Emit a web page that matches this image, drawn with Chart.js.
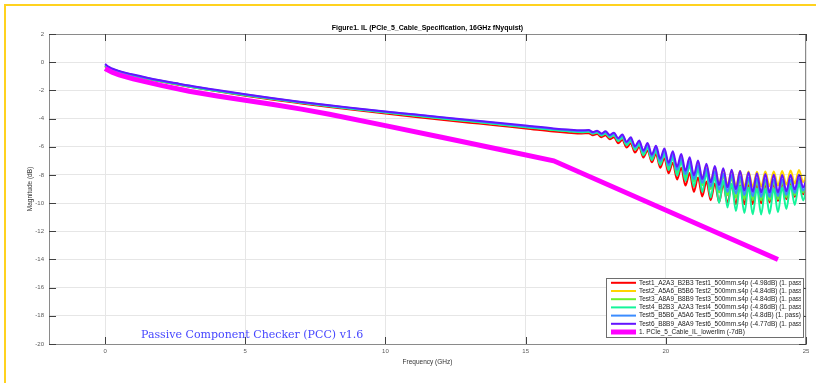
<!DOCTYPE html>
<html>
<head>
<meta charset="utf-8">
<title>Figure1. IL</title>
<script src="https://cdn.jsdelivr.net/npm/chart.js@4.4.1/dist/chart.umd.min.js"></script>
<style>
  html, body { margin: 0; padding: 0; background: #fff; }
  #chartBox { width: 816px; height: 383px; }
</style>
</head>
<body>
<div id="chartBox"><canvas id="ilChart" width="816" height="383"></canvas></div>
<script>
// frequency points (GHz) shared by the six measured curves
const freqGHz = [0, 0.1, 0.25, 0.5, 0.75, 1, 1.5, 2, 2.5, 3, 4, 5, 6, 7, 8, 9, 10, 11, 12, 13, 14, 15, 16, 16.5, 17,
  17.25, 17.4, 17.55, 17.7, 17.85, 18, 18.15, 18.3, 18.45, 18.6, 18.75, 18.9, 19.05, 19.2, 19.35, 19.5, 19.65, 19.8, 19.95,
  20.1, 20.25, 20.4, 20.55, 20.7, 20.85, 21, 21.15, 21.3, 21.45, 21.6, 21.75, 21.9, 22.05, 22.2, 22.35, 22.5, 22.65, 22.8,
  22.95, 23.1, 23.25, 23.4, 23.55, 23.7, 23.85, 24, 24.15, 24.3, 24.45, 24.6, 24.75, 24.9, 25.05];

const test1 = [-0.3, -0.42, -0.55, -0.71, -0.85, -0.96, -1.18, -1.38, -1.56, -1.74, -2.07, -2.38, -2.67, -2.93, -3.18, -3.42, -3.65, -3.87, -4.08, -4.29, -4.5, -4.7, -4.92, -5.0, -5.06,
  -5.04, -5.18, -5.10, -5.32, -5.19, -5.47, -5.32, -5.75, -5.52, -6.06, -5.76, -6.41, -6.01, -6.76, -6.26, -7.11, -6.52, -7.49, -6.81,
  -7.89, -7.14, -8.32, -7.50, -8.76, -7.86, -9.20, -8.19, -9.53, -8.46, -9.79, -8.61, -9.93, -8.67, -10.01, -8.72, -10.07, -8.73, -10.08,
  -8.72, -10.07, -8.70, -10.02, -8.67, -9.95, -8.63, -9.85, -8.59, -9.72, -8.54, -9.55, -8.48, -9.37, -8.42];

const test2 = [-0.25, -0.38, -0.51, -0.67, -0.81, -0.92, -1.14, -1.34, -1.52, -1.7, -2.02, -2.32, -2.6, -2.86, -3.1, -3.33, -3.55, -3.76, -3.97, -4.17, -4.38, -4.58, -4.78, -4.86, -4.92,
  -4.88, -5.01, -4.93, -5.12, -4.98, -5.23, -5.08, -5.46, -5.25, -5.74, -5.45, -6.07, -5.72, -6.40, -5.92, -6.71, -6.14, -7.00, -6.35,
  -7.30, -6.56, -7.58, -6.77, -7.84, -6.99, -8.10, -7.18, -8.30, -7.35, -8.48, -7.49, -8.62, -7.61, -8.72, -7.68, -8.79, -7.73, -8.82,
  -7.75, -8.84, -7.77, -8.83, -7.76, -8.80, -7.75, -8.76, -7.73, -8.69, -7.69, -8.61, -7.65, -8.52, -7.59];

const test3 = [-0.26, -0.39, -0.52, -0.68, -0.82, -0.93, -1.15, -1.35, -1.53, -1.71, -2.03, -2.33, -2.61, -2.87, -3.11, -3.34, -3.56, -3.77, -3.98, -4.18, -4.39, -4.59, -4.8, -4.88, -4.95,
  -4.91, -5.05, -4.96, -5.17, -5.03, -5.30, -5.14, -5.55, -5.31, -5.84, -5.52, -6.18, -5.80, -6.53, -6.02, -6.86, -6.24, -7.18, -6.47,
  -7.51, -6.71, -7.83, -6.95, -8.16, -7.20, -8.48, -7.43, -8.74, -7.65, -9.00, -7.87, -9.26, -8.06, -9.45, -8.20, -9.62, -8.33, -9.72,
  -8.40, -9.79, -8.46, -9.81, -8.49, -9.79, -8.48, -9.72, -8.46, -9.60, -8.42, -9.43, -8.36, -9.25, -8.30];

const test4 = [-0.27, -0.4, -0.53, -0.69, -0.83, -0.94, -1.16, -1.36, -1.54, -1.72, -2.04, -2.34, -2.62, -2.88, -3.13, -3.36, -3.58, -3.79, -4.0, -4.2, -4.41, -4.61, -4.82, -4.9, -4.97,
  -4.93, -5.07, -4.99, -5.20, -5.06, -5.34, -5.18, -5.59, -5.36, -5.89, -5.57, -6.22, -5.85, -6.60, -6.07, -6.95, -6.30, -7.30, -6.53,
  -7.66, -6.80, -8.05, -7.07, -8.44, -7.34, -8.83, -7.60, -9.22, -7.87, -9.61, -8.14, -10.00, -8.41, -10.31, -8.62, -10.57, -8.78, -10.71,
  -8.89, -10.80, -8.95, -10.81, -8.99, -10.76, -8.97, -10.65, -8.90, -10.42, -8.78, -10.13, -8.63, -9.81, -8.47];

const test5 = [-0.18, -0.34, -0.48, -0.65, -0.79, -0.9, -1.12, -1.32, -1.5, -1.68, -2.0, -2.3, -2.58, -2.84, -3.08, -3.3, -3.52, -3.72, -3.93, -4.13, -4.33, -4.54, -4.74, -4.82, -4.88,
  -4.85, -5.00, -4.90, -5.10, -4.96, -5.22, -5.07, -5.45, -5.22, -5.72, -5.43, -6.06, -5.66, -6.37, -5.89, -6.69, -6.11, -7.01, -6.33,
  -7.33, -6.56, -7.64, -6.80, -7.95, -7.06, -8.30, -7.32, -8.58, -7.56, -8.83, -7.74, -9.05, -7.90, -9.21, -8.01, -9.34, -8.11, -9.44,
  -8.19, -9.52, -8.25, -9.56, -8.30, -9.56, -8.33, -9.51, -8.33, -9.42, -8.32, -9.28, -8.27, -9.12, -8.22];

const test6 = [-0.12, -0.3, -0.45, -0.62, -0.76, -0.88, -1.1, -1.3, -1.48, -1.66, -1.98, -2.28, -2.56, -2.82, -3.06, -3.28, -3.5, -3.7, -3.9, -4.1, -4.3, -4.5, -4.7, -4.78, -4.83,
  -4.82, -4.96, -4.86, -5.06, -4.91, -5.17, -5.00, -5.39, -5.13, -5.65, -5.33, -5.97, -5.55, -6.27, -5.74, -6.56, -5.93, -6.85, -6.12,
  -7.14, -6.32, -7.42, -6.52, -7.71, -6.75, -8.03, -6.98, -8.29, -7.20, -8.53, -7.37, -8.73, -7.52, -8.89, -7.63, -9.02, -7.73, -9.12,
  -7.81, -9.20, -7.88, -9.25, -7.94, -9.26, -7.98, -9.24, -8.00, -9.16, -8.01, -9.04, -7.99, -8.89, -7.95];

// PCIe 5 cable IL lower limit
const limitFreqGHz = [0, 0.25, 0.5, 1, 1.5, 2, 3, 4, 5, 6, 7, 8, 10, 12, 14, 16, 24];
const limitDb = [-0.45, -0.72, -0.9, -1.18, -1.42, -1.65, -2.06, -2.4, -2.7, -3.0, -3.33, -3.7, -4.5, -5.33, -6.16, -7.0, -14.0];

const seriesLabels = [
  'Test1_A2A3_B2B3 Test1_500mm.s4p (-4.98dB) (1. pass)',
  'Test2_A5A6_B5B6 Test2_500mm.s4p (-4.84dB) (1. pass)',
  'Test3_A8A9_B8B9 Test3_500mm.s4p (-4.84dB) (1. pass)',
  'Test4_B2B3_A2A3 Test4_500mm.s4p (-4.86dB) (1. pass)',
  'Test5_B5B6_A5A6 Test5_500mm.s4p (-4.8dB) (1. pass)',
  'Test6_B8B9_A8A9 Test6_500mm.s4p (-4.77dB) (1. pass)'
];
const limitLabel = '1. PCIe_5_Cable_IL_lowerlim (-7dB)';
const seriesColors = ['#ff0000', '#ffd400', '#6cf22e', '#14f59a', '#3b8cff', '#6414ff'];
const limitColor = '#ff00ff';

const xTicks = [0, 5, 10, 15, 20, 25];
const yTicks = [2, 0, -2, -4, -6, -8, -10, -12, -14, -16, -18, -20];

const chartTitle = 'Figure1. IL (PCIe_5_Cable_Specification, 16GHz fNyquist)';
const stampText = 'Passive Component Checker (PCC) v1.6';

const sans = '"Liberation Sans", Arial, sans-serif';

function toPoints(xs, ys) {
  return xs.map((f, i) => ({ x: f, y: ys[i] }));
}

const allTests = [test1, test2, test3, test4, test5, test6];
const datasets = allTests.map((vals, i) => ({
  label: seriesLabels[i],
  data: toPoints(freqGHz, vals),
  borderColor: seriesColors[i],
  backgroundColor: seriesColors[i],
  borderWidth: 2,
  pointRadius: 0,
  cubicInterpolationMode: 'monotone',
  order: 7 - i
}));
datasets.push({
  label: limitLabel,
  data: toPoints(limitFreqGHz, limitDb),
  borderColor: limitColor,
  backgroundColor: limitColor,
  borderWidth: 5,
  pointRadius: 0,
  tension: 0,
  order: 0
});

// frame, title, inner tick marks, stamp and legend
const decor = {
  id: 'decor',
  beforeDraw(chart) {
    const ctx = chart.ctx;
    ctx.save();
    ctx.fillStyle = '#fff';
    ctx.fillRect(0, 0, chart.width, chart.height);
    ctx.strokeStyle = '#ffd21f';
    ctx.lineWidth = 2;
    ctx.beginPath();
    ctx.moveTo(5, chart.height);
    ctx.lineTo(5, 5);
    ctx.lineTo(chart.width, 5);
    ctx.stroke();
    ctx.restore();
  },
  afterDraw(chart) {
    const { ctx, chartArea: a } = chart;
    const sx = chart.scales.x, sy = chart.scales.y;
    ctx.save();

    ctx.strokeStyle = '#8a8a8a';
    ctx.lineWidth = 1;
    ctx.beginPath();
    ctx.moveTo(a.left, a.top + 0.5);
    ctx.lineTo(a.right, a.top + 0.5);
    ctx.moveTo(a.right - 0.5, a.top);
    ctx.lineTo(a.right - 0.5, a.bottom);
    ctx.stroke();

    ctx.strokeStyle = '#404040';
    ctx.beginPath();
    xTicks.forEach(v => {
      const px = Math.round(sx.getPixelForValue(v)) + 0.5;
      ctx.moveTo(px, a.bottom); ctx.lineTo(px, a.bottom - 7);
      ctx.moveTo(px, a.top); ctx.lineTo(px, a.top + 7);
    });
    yTicks.forEach(v => {
      const py = Math.round(sy.getPixelForValue(v)) + 0.5;
      ctx.moveTo(a.left, py); ctx.lineTo(a.left + 7, py);
      ctx.moveTo(a.right, py); ctx.lineTo(a.right - 7, py);
    });
    ctx.stroke();

    ctx.fillStyle = '#000';
    ctx.font = 'bold 7px ' + sans;
    ctx.textAlign = 'center';
    ctx.textBaseline = 'middle';
    ctx.fillText(chartTitle, (a.left + a.right) / 2, a.top - 6);

    ctx.fillStyle = '#4646ff';
    ctx.font = '11px "DejaVu Serif", serif';
    ctx.textAlign = 'left';
    ctx.textBaseline = 'alphabetic';
    ctx.fillText(stampText, 141, 338);

    // legend box
    const items = chart.data.datasets;
    const lw = 197, lh = 59;
    const lx = a.right - 3 - lw, ly = a.bottom - 7 - lh;
    ctx.fillStyle = '#fff';
    ctx.fillRect(lx, ly, lw, lh);
    ctx.strokeStyle = '#6e6e6e';
    ctx.strokeRect(lx + 0.5, ly + 0.5, lw, lh);
    ctx.beginPath();
    ctx.rect(lx, ly, lw - 2, lh);
    ctx.clip();
    ctx.font = '6.5px ' + sans;
    ctx.textBaseline = 'middle';
    items.forEach((ds, i) => {
      const cy = ly + 4.8 + i * 8.2;
      ctx.strokeStyle = ds.borderColor;
      ctx.lineWidth = ds.borderWidth;
      ctx.beginPath();
      ctx.moveTo(lx + 5, cy);
      ctx.lineTo(lx + 30, cy);
      ctx.stroke();
      ctx.fillStyle = '#222';
      ctx.fillText(ds.label, lx + 33, cy);
    });
    ctx.restore();
  }
};

new Chart(document.getElementById('ilChart').getContext('2d'), {
  type: 'line',
  data: { datasets: datasets },
  options: {
    responsive: false,
    animation: false,
    devicePixelRatio: 1,
    layout: { padding: { top: 34, right: 10, left: 0, bottom: 0 } },
    plugins: {
      legend: { display: false },
      tooltip: { enabled: false }
    },
    scales: {
      x: {
        type: 'linear',
        min: -2,
        max: 25,
        afterBuildTicks: s => { s.ticks = xTicks.map(v => ({ value: v })); },
        afterFit: s => { s.height = 39; },
        grid: { color: '#e6e6e6', drawTicks: false },
        border: { color: '#8a8a8a', width: 1 },
        ticks: { padding: 4, color: '#5a5a5a', font: { size: 6, family: sans } },
        title: {
          display: true,
          text: 'Frequency (GHz)',
          color: '#333',
          font: { size: 6.5, family: sans },
          padding: { top: 0, bottom: 17 }
        }
      },
      y: {
        type: 'linear',
        min: -20,
        max: 2,
        afterBuildTicks: s => { s.ticks = yTicks.map(v => ({ value: v })); },
        afterFit: s => { s.width = 49; },
        grid: { color: '#e6e6e6', drawTicks: false },
        border: { color: '#8a8a8a', width: 1 },
        ticks: { padding: 5, color: '#5a5a5a', font: { size: 6, family: sans } },
        title: {
          display: true,
          text: 'Magnitude (dB)',
          color: '#333',
          font: { size: 6.5, family: sans },
          padding: { top: 26, bottom: 0 }
        }
      }
    }
  },
  plugins: [decor]
});
</script>
</body>
</html>
